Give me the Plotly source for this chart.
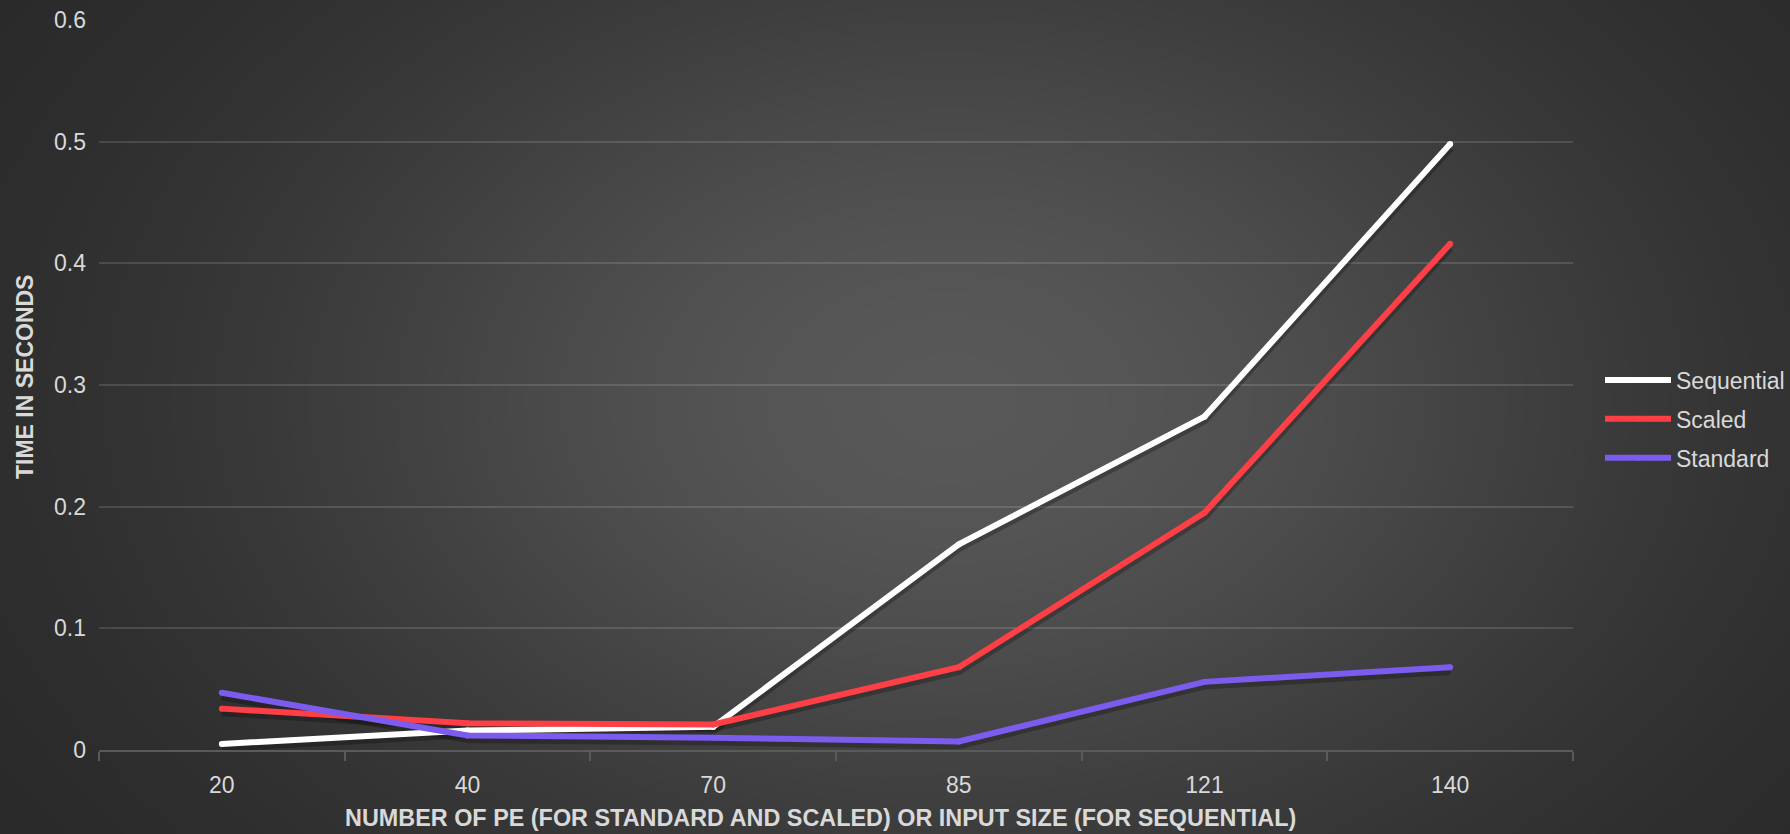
import numpy as np
import plotly.graph_objects as go

# Problem sizes / processing elements on the x axis
categories = ["20", "40", "70", "85", "121", "140"]

# Execution time in seconds for each approach
sequential = [0.005, 0.016, 0.019, 0.169, 0.274, 0.498]
scaled = [0.034, 0.022, 0.021, 0.068, 0.195, 0.416]
standard = [0.047, 0.012, 0.010, 0.007, 0.056, 0.068]

series_names = ["Sequential", "Scaled", "Standard"]
series_values = [sequential, scaled, standard]
series_colors = ["#FFFFFF", "#FF3F46", "#7B5CEE"]

y_ticks = [0, 0.1, 0.2, 0.3, 0.4, 0.5, 0.6]
y_tick_text = ["0", "0.1", "0.2", "0.3", "0.4", "0.5", "0.6"]

W, H = 1790, 834
FONT = "Liberation Sans, Arial, sans-serif"
TEXT = "#D9D9D9"

# Soft radial backdrop, built as a smoothed heatmap spanning the whole canvas
gx = np.linspace(-60, W + 60, 96)
gy = np.linspace(-60, H + 60, 50)
XX, YY = np.meshgrid(gx, gy)
d2 = ((XX - 950) / 700) ** 2 + ((YY - 400) / 480) ** 2
shade = 38 + 50 * np.exp(-d2)

fig = go.Figure()
fig.add_trace(go.Heatmap(
    x=gx, y=gy, z=shade, zmin=0, zmax=255, zsmooth="best",
    colorscale=[[0, "rgb(0,0,0)"], [1, "rgb(255,255,255)"]],
    showscale=False, hoverinfo="skip", xaxis="x", yaxis="y",
))

# Faint drop shadows under each series
for vals in series_values:
    fig.add_trace(go.Scatter(
        x=categories, y=[v - 0.003 for v in vals], mode="lines",
        line=dict(color="rgba(0,0,0,0.25)", width=8),
        showlegend=False, hoverinfo="skip", xaxis="x2", yaxis="y2",
    ))

# Series lines; small same-colour dots at the vertices give rounded line ends
for name, vals, color in zip(series_names, series_values, series_colors):
    fig.add_trace(go.Scatter(
        x=categories, y=vals, mode="lines+markers", name=name, legendgroup=name,
        line=dict(color=color, width=6),
        marker=dict(color=color, size=6, line=dict(width=0)),
        xaxis="x2", yaxis="y2",
    ))

x0, x1 = 99 / W, 1573 / W
y0, y1 = (H - 750) / H, (H - 20) / H

fig.update_layout(
    width=W, height=H,
    margin=dict(l=0, r=0, t=0, b=0, pad=0, autoexpand=False),
    paper_bgcolor="#333333", plot_bgcolor="rgba(0,0,0,0)",
    font=dict(family=FONT, size=23, color=TEXT),
    showlegend=True,
    xaxis=dict(domain=[0, 1], range=[0, W], visible=False, fixedrange=True),
    yaxis=dict(domain=[0, 1], range=[H, 0], visible=False, fixedrange=True),
    xaxis2=dict(
        domain=[x0, x1], anchor="y2", type="category", range=[-0.5, 5.5],
        tickson="boundaries", ticks="outside", ticklen=9, tickwidth=1.5,
        tickcolor="#5A5A5A", showline=True, linecolor="#5A5A5A", linewidth=1.5,
        showgrid=False, tickfont=dict(size=23, color=TEXT), ticklabelstandoff=14,
        automargin=False,
    ),
    yaxis2=dict(
        domain=[y0, y1], anchor="x2", range=[0, 0.6],
        tickvals=y_ticks, ticktext=y_tick_text, tickfont=dict(size=23, color=TEXT),
        showgrid=True, gridcolor="rgba(255,255,255,0.13)", gridwidth=1.5,
        zeroline=False, showline=False, ticks="", ticklabelstandoff=12,
        automargin=False,
    ),
    annotations=[
        dict(text="<b>NUMBER OF PE (FOR STANDARD AND SCALED) OR INPUT SIZE (FOR SEQUENTIAL)</b>",
             xref="paper", yref="paper", x=820 / W, y=(H - 818) / H,
             xanchor="center", yanchor="middle", showarrow=False,
             font=dict(size=23.4, color=TEXT)),
        dict(text="<b>TIME IN SECONDS</b>", textangle=-90,
             xref="paper", yref="paper", x=25 / W, y=(H - 377) / H,
             xanchor="center", yanchor="middle", showarrow=False,
             font=dict(size=23, color=TEXT)),
    ],
    legend=dict(
        x=1600 / W, y=(H - 419) / H, xanchor="left", yanchor="middle",
        bgcolor="rgba(0,0,0,0)", font=dict(size=23, color=TEXT),
        itemwidth=66, tracegroupgap=6,
    ),
)

fig.write_html("out.html")
